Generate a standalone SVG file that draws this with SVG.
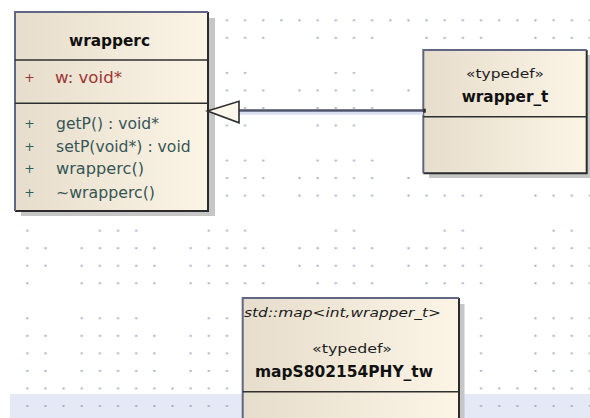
<svg xmlns="http://www.w3.org/2000/svg" xmlns:xlink="http://www.w3.org/1999/xlink" width="590" height="418" viewBox="0 0 590 418">
  <style>
    .shadow { fill: #c6c6c6; }
    .body { fill: url(#beige); }
    .edge-br { fill: none; stroke: #2b2b2b; stroke-width: 2; }
    .edge-tl { fill: none; stroke: #5f6782; stroke-width: 2; }
    .sep { stroke: #2f2f2f; stroke-width: 1.6; }
    .name { font-family: "DejaVu Sans", sans-serif; font-weight: bold; font-size: 15.3px; fill: #111; }
    .stereo { font-family: "DejaVu Sans", sans-serif; font-size: 12.5px; fill: #1e1e1e; }
    .tmpl { font-family: "DejaVu Sans", sans-serif; font-style: italic; font-size: 13px; fill: #1a1a1a; }
    .attr { font-family: "DejaVu Sans", sans-serif; font-size: 15.6px; fill: #9c3535; }
    .op { font-family: "DejaVu Sans", sans-serif; font-size: 15.6px; fill: #365656; }
    .vis { font-family: "DejaVu Sans", sans-serif; font-size: 12.5px; text-anchor: middle; }
  </style>
  <defs>
    <linearGradient id="beige" x1="0" y1="0" x2="1" y2="0">
      <stop offset="0" stop-color="#e6ddcc"/>
      <stop offset="1" stop-color="#fcf4e5"/>
    </linearGradient>
    <!-- canvas grid: one dot per cell, anchored at (27.3, 20.3) -->
    <pattern id="dots" patternUnits="userSpaceOnUse" x="18.225" y="11.535" width="18.15" height="17.53">
      <rect x="8.075" y="7.765" width="2" height="2" fill="#a8aec5"/>
    </pattern>
    <g id="rowF">
      <rect x="24.3" y="17.3" width="568.65" height="6"/>
    </g>
    <g id="rowA">
      <rect x="24.3" y="17.3" width="24.15" height="6"/>
      <rect x="78.75" y="17.3" width="78.6" height="6"/>
      <rect x="187.65" y="17.3" width="78.6" height="6"/>
      <rect x="296.55" y="17.3" width="78.6" height="6"/>
      <rect x="405.45" y="17.3" width="78.6" height="6"/>
      <rect x="532.5" y="17.3" width="60.45" height="6"/>
    </g>
    <g id="rowB">
      <rect x="24.3" y="17.3" width="24.15" height="6"/>
      <rect x="78.75" y="17.3" width="78.6" height="6"/>
      <rect x="187.65" y="17.3" width="78.6" height="6"/>
      <rect x="314.7" y="17.3" width="60.45" height="6"/>
      <rect x="423.6" y="17.3" width="60.45" height="6"/>
      <rect x="532.5" y="17.3" width="60.45" height="6"/>
    </g>
  </defs>

  <rect width="590" height="418" fill="#ffffff"/>
  <!-- selection band along the bottom -->
  <rect x="10" y="394" width="580" height="24" fill="#e5e9f5"/>

  <!-- canvas grid -->
  <g id="grid" fill="url(#dots)">
    <use xlink:href="#rowF"/>
    <use xlink:href="#rowB" y="17.53"/>
    <rect x="205.8" y="69.89" width="42.3" height="6"/>
    <rect x="332.85" y="69.89" width="24.15" height="6"/>
    <use xlink:href="#rowA" y="70.12"/>
    <use xlink:href="#rowB" y="87.65"/>
    <rect x="223.95" y="122.48" width="24.15" height="6"/>
    <rect x="314.7" y="122.48" width="42.3" height="6"/>
    <use xlink:href="#rowB" y="140.24"/>
    <rect x="24.3" y="175.07" width="24.15" height="6"/>
    <rect x="78.75" y="175.07" width="78.6" height="6"/>
    <rect x="187.65" y="175.07" width="78.6" height="6"/>
    <rect x="296.55" y="175.07" width="78.6" height="6"/>
    <rect x="405.45" y="175.07" width="6" height="6"/>
    <use xlink:href="#rowA" y="175.3"/>
    <rect x="24.3" y="227.66" width="6" height="6"/>
    <rect x="96.9" y="227.66" width="42.3" height="6"/>
    <rect x="205.8" y="227.66" width="42.3" height="6"/>
    <rect x="332.85" y="227.66" width="24.15" height="6"/>
    <rect x="441.75" y="227.66" width="24.15" height="6"/>
    <rect x="550.65" y="227.66" width="24.15" height="6"/>
    <use xlink:href="#rowA" y="227.89"/>
    <use xlink:href="#rowA" y="245.42"/>
    <rect x="24.3" y="280.25" width="6" height="6"/>
    <rect x="78.75" y="280.25" width="78.6" height="6"/>
    <rect x="187.65" y="280.25" width="78.6" height="6"/>
    <rect x="314.7" y="280.25" width="60.45" height="6"/>
    <rect x="423.6" y="280.25" width="60.45" height="6"/>
    <rect x="532.5" y="280.25" width="60.45" height="6"/>
    <rect x="24.3" y="315.31" width="6" height="6"/>
    <rect x="78.75" y="315.31" width="60.45" height="6"/>
    <rect x="205.8" y="315.31" width="24.15" height="6"/>
    <rect x="478.05" y="315.31" width="6" height="6"/>
    <rect x="532.5" y="315.31" width="60.45" height="6"/>
    <use xlink:href="#rowA" y="315.54"/>
    <use xlink:href="#rowA" y="333.07"/>
    <use xlink:href="#rowA" y="350.6"/>
    <use xlink:href="#rowF" y="368.13"/>
    <use xlink:href="#rowF" y="385.66"/>
  </g>

  <!-- class wrapperc -->
  <g id="wrapperc">
    <rect class="shadow" x="21" y="18" width="194" height="198"/>
    <rect class="body" x="15" y="12" width="193" height="199"/>
    <path class="edge-br" d="M208 12 V211 H15"/>
    <path class="edge-tl" d="M15 211 V12 H208"/>
    <line class="sep" x1="15" y1="60" x2="208" y2="60"/>
    <line class="sep" x1="15" y1="103.3" x2="208" y2="103.3"/>
    <text class="name" x="69" y="45.5" textLength="81" lengthAdjust="spacingAndGlyphs">wrapperc</text>
    <text class="vis" x="29.5" y="81.5" fill="#9c3535">+</text>
    <text class="attr" x="55" y="82.5" textLength="67" lengthAdjust="spacingAndGlyphs">w: void*</text>
    <g class="vis" fill="#2f6161">
      <text x="29.5" y="128">+</text>
      <text x="29.5" y="150.7">+</text>
      <text x="29.5" y="173.2">+</text>
      <text x="29.5" y="196.5">+</text>
    </g>
    <text class="op" x="56" y="129" textLength="103" lengthAdjust="spacingAndGlyphs">getP() : void*</text>
    <text class="op" x="56" y="151.7" textLength="134.7" lengthAdjust="spacingAndGlyphs">setP(void*) : void</text>
    <text class="op" x="56" y="174.2" textLength="88" lengthAdjust="spacingAndGlyphs">wrapperc()</text>
    <text class="op" x="56" y="197.5" textLength="99" lengthAdjust="spacingAndGlyphs">~wrapperc()</text>
  </g>

  <!-- typedef wrapper_t -->
  <g id="wrapper_t">
    <rect class="shadow" x="429" y="55" width="164" height="123"/>
    <rect class="body" x="423.3" y="50" width="163.4" height="123.3"/>
    <path class="edge-br" d="M586.7 50 V173.3 H423.3"/>
    <path class="edge-tl" d="M423.3 173.3 V50 H586.7"/>
    <line class="sep" x1="423.3" y1="116.7" x2="586.7" y2="116.7"/>
    <text class="stereo" x="466" y="77.7" textLength="78" lengthAdjust="spacingAndGlyphs">«typedef»</text>
    <text class="name" x="461.7" y="101.5" textLength="86.7" lengthAdjust="spacingAndGlyphs">wrapper_t</text>
  </g>

  <!-- typedef mapS802154PHY_tw -->
  <g id="mapS802154PHY_tw">
    <rect class="shadow" x="248.5" y="304" width="216" height="120"/>
    <rect class="body" x="242.7" y="298" width="216.3" height="125"/>
    <path class="edge-br" d="M459 298 V423"/>
    <path class="edge-tl" d="M242.7 423 V298 H459"/>
    <line class="sep" x1="242.7" y1="391.7" x2="459" y2="391.7"/>
    <text class="tmpl" x="244" y="316.7" textLength="197" lengthAdjust="spacingAndGlyphs">std::map&lt;int,wrapper_t&gt;</text>
    <text class="stereo" x="312" y="353.3" textLength="80" lengthAdjust="spacingAndGlyphs">«typedef»</text>
    <text class="name" x="255" y="377.3" textLength="178" lengthAdjust="spacingAndGlyphs">mapS802154PHY_tw</text>
  </g>

  <!-- generalization wrapper_t -> wrapperc -->
  <g id="connectors">
    <rect x="239" y="112" width="184" height="2.8" fill="#dbe1f2"/>
    <line x1="239" y1="110.5" x2="424" y2="110.5" stroke="#4b5169" stroke-width="2.3"/>
    <rect x="423.3" y="108.7" width="2.5" height="4" fill="#2b2b2b"/>
    <polygon points="207.5,111 239,101.3 239,122.8" fill="#fdf6ea" stroke="#2e2e2e" stroke-width="1.6" stroke-linejoin="miter"/>
  </g>
</svg>
